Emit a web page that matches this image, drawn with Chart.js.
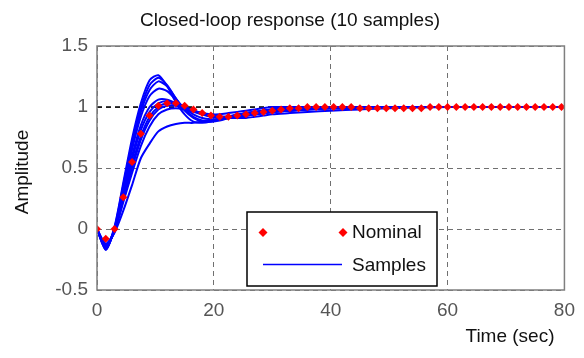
<!DOCTYPE html>
<html>
<head>
<meta charset="utf-8">
<title>Closed-loop response</title>
<script src="https://cdn.jsdelivr.net/npm/chart.js"></script>
<style>
  body { margin: 0; background: #fff; }
</style>
</head>
<body>
<canvas id="stepChart" width="584" height="358"></canvas>
<script>
// nominal step response, one marker per sample (Ts = 1.5 s)
var nominalTime = [0, 1.5, 3, 4.5, 6, 7.5, 9, 10.5, 12, 13.5, 15, 16.5, 18, 19.5, 21, 22.5, 24, 25.5,
  27, 28.5, 30, 31.5, 33, 34.5, 36, 37.5, 39, 40.5, 42, 43.5, 45, 46.5, 48, 49.5, 51, 52.5, 54, 55.5,
  57, 58.5, 60, 61.5, 63, 64.5, 66, 67.5, 69, 70.5, 72, 73.5, 75, 76.5, 78, 79.5];
var nominalValues = [0, -0.08, 0, 0.26, 0.55, 0.78, 0.93, 1.01, 1.03, 1.03, 1.01, 0.98, 0.95, 0.93,
  0.92, 0.92, 0.93, 0.94, 0.95, 0.96, 0.97, 0.98, 0.99, 0.99, 1.0, 1.0, 1.0, 1.0, 1.0, 1.0, 0.99,
  0.99, 0.99, 0.99, 0.99, 0.99, 0.99, 0.99, 1.0, 1.0, 1.0, 1.0, 1.0, 1.0, 1.0, 1.0, 1.0, 1.0, 1.0,
  1.0, 1.0, 1.0, 1.0, 1.0];

// the 10 random samples of the uncertain loop
var sampleTime = [0, 1.5, 3, 4.5, 6, 7.5, 9, 10.5, 12, 13.5, 15, 16.5, 18, 19.5, 21, 22.5, 24, 25.5,
  27, 28.5, 30, 33, 36, 40, 45, 50, 60, 80];
var sample1  = [0, -0.17, 0.02, 0.38, 0.74, 1.03, 1.22, 1.26, 1.17, 1.04, 0.94, 0.88, 0.87, 0.88, 0.90, 0.92, 0.94, 0.95, 0.96, 0.97, 0.98, 0.99, 0.99, 1, 1, 1, 1, 1];
var sample2  = [0, -0.17, 0.01, 0.36, 0.71, 0.99, 1.18, 1.24, 1.18, 1.07, 0.97, 0.91, 0.88, 0.88, 0.89, 0.91, 0.93, 0.95, 0.96, 0.97, 0.98, 0.99, 0.99, 1, 1, 1, 1, 1];
var sample3  = [0, -0.16, 0.00, 0.34, 0.68, 0.96, 1.14, 1.21, 1.17, 1.07, 0.98, 0.92, 0.89, 0.89, 0.90, 0.92, 0.93, 0.95, 0.96, 0.97, 0.98, 0.99, 0.99, 1, 1, 1, 1, 1];
var sample4  = [0, -0.16, 0.00, 0.32, 0.65, 0.92, 1.09, 1.15, 1.13, 1.06, 0.99, 0.94, 0.91, 0.90, 0.90, 0.91, 0.93, 0.94, 0.95, 0.96, 0.97, 0.98, 0.99, 1, 1, 1, 1, 1];
var sample5  = [0, -0.15, 0.00, 0.30, 0.60, 0.85, 1.00, 1.06, 1.06, 1.03, 1.00, 0.97, 0.95, 0.94, 0.94, 0.95, 0.96, 0.97, 0.98, 0.99, 1.00, 1.00, 1.00, 1, 1, 1, 1, 1];
var sample6  = [0, -0.15, -0.01, 0.28, 0.57, 0.81, 0.96, 1.03, 1.05, 1.03, 1.00, 0.97, 0.94, 0.92, 0.91, 0.91, 0.92, 0.93, 0.94, 0.95, 0.96, 0.97, 0.98, 0.99, 1, 1, 1, 1];
var sample7  = [0, -0.14, -0.01, 0.26, 0.53, 0.76, 0.92, 1.00, 1.03, 1.02, 1.00, 0.97, 0.95, 0.93, 0.92, 0.92, 0.92, 0.93, 0.94, 0.95, 0.96, 0.97, 0.98, 0.99, 0.99, 1, 1, 1];
var sample8  = [0, -0.14, -0.02, 0.24, 0.50, 0.73, 0.89, 0.98, 1.01, 1.01, 0.99, 0.97, 0.95, 0.93, 0.92, 0.92, 0.92, 0.93, 0.94, 0.95, 0.96, 0.97, 0.98, 0.99, 0.99, 1, 1, 1];
var sample9  = [0, -0.13, -0.02, 0.22, 0.46, 0.68, 0.84, 0.94, 0.98, 0.99, 0.98, 0.96, 0.94, 0.93, 0.92, 0.91, 0.91, 0.91, 0.92, 0.93, 0.94, 0.95, 0.96, 0.97, 0.98, 0.99, 1, 1];
var sample10 = [0, -0.12, -0.03, 0.15, 0.36, 0.58, 0.70, 0.80, 0.84, 0.86, 0.87, 0.87, 0.88, 0.89, 0.90, 0.91, 0.92, 0.93, 0.94, 0.95, 0.96, 0.97, 0.98, 0.99, 0.99, 1, 1, 1];
var samples = [sample1, sample2, sample3, sample4, sample5, sample6, sample7, sample8, sample9, sample10];

// steady-state reference line
var finalTime = [0, 80];
var finalValue = [1, 1];

var xTicks = [0, 20, 40, 60, 80];
var yTicks = [-0.5, 0, 0.5, 1, 1.5];

var FONT = '"Liberation Sans", Arial, Helvetica, sans-serif';

function pts(xs, ys) {
  return xs.map(function (x, i) { return { x: x, y: ys[i] }; });
}

var datasets = [];
datasets.push({
  label: 'Final value',
  data: pts(finalTime, finalValue),
  borderColor: '#000000',
  borderWidth: 1.3,
  borderDash: [5, 4],
  pointRadius: 0,
  order: 3
});
samples.forEach(function (s) {
  datasets.push({
    label: 'Samples',
    data: pts(sampleTime, s),
    borderColor: '#0000ff',
    borderWidth: 2,
    pointRadius: 0,
    tension: 0.25,
    order: 2
  });
});
datasets.push({
  label: 'Nominal',
  data: pts(nominalTime, nominalValues),
  showLine: false,
  pointStyle: 'rectRot',
  pointRadius: 4,
  pointBorderWidth: 0,
  pointBackgroundColor: '#ff0000',
  pointBorderColor: '#ff0000',
  order: 1
});

// title, axis labels, plot box and the legend box
var decorations = {
  id: 'decorations',
  afterDraw: function (chart) {
    var ctx = chart.ctx;
    var a = chart.chartArea;
    ctx.save();
    ctx.strokeStyle = '#7f7f7f';
    ctx.lineWidth = 1.5;
    ctx.strokeRect(a.left, a.top, a.right - a.left, a.bottom - a.top);

    ctx.fillStyle = '#111';
    ctx.font = '19px ' + FONT;
    ctx.textAlign = 'center';
    ctx.textBaseline = 'middle';
    ctx.fillText('Closed-loop response (10 samples)', 290, 21);
    ctx.fillText('Time (sec)', 510, 337);
    ctx.save();
    ctx.translate(23, 172);
    ctx.rotate(-Math.PI / 2);
    ctx.fillText('Amplitude', 0, 0);
    ctx.restore();

    // legend
    ctx.fillStyle = '#fff';
    ctx.fillRect(247, 212, 190, 74);
    ctx.strokeStyle = '#000';
    ctx.lineWidth = 1.5;
    ctx.strokeRect(247, 212, 190, 74);
    ctx.fillStyle = '#ff0000';
    [263, 343].forEach(function (cx) {
      ctx.beginPath();
      ctx.moveTo(cx, 228); ctx.lineTo(cx + 4.5, 232.5);
      ctx.lineTo(cx, 237); ctx.lineTo(cx - 4.5, 232.5);
      ctx.closePath();
      ctx.fill();
    });
    ctx.strokeStyle = '#0000ff';
    ctx.lineWidth = 1.6;
    ctx.beginPath();
    ctx.moveTo(263, 264.5); ctx.lineTo(342, 264.5);
    ctx.stroke();
    ctx.fillStyle = '#111';
    ctx.textAlign = 'left';
    ctx.fillText('Nominal', 352, 233);
    ctx.fillText('Samples', 352, 266);
    ctx.restore();
  }
};

var ctx = document.getElementById('stepChart').getContext('2d');
var stepChart = new Chart(ctx, {
  type: 'line',
  data: { datasets: datasets },
  options: {
    responsive: false,
    animation: false,
    layout: { padding: { top: 46, right: 10, left: 0, bottom: 0 } },
    plugins: {
      legend: { display: false },
      tooltip: { enabled: false }
    },
    scales: {
      x: {
        type: 'linear',
        min: 0,
        max: 80,
        afterFit: function (scale) { scale.height = 68; },
        afterBuildTicks: function (scale) { scale.ticks = xTicks.map(function (v) { return { value: v }; }); },
        grid: { color: '#707070', lineWidth: 1, drawTicks: false },
        border: { display: false, dash: [5, 4] },
        ticks: {
          color: '#555', padding: 9, font: { family: FONT, size: 19 },
          callback: function (v) { return String(v); }
        }
      },
      y: {
        min: -0.5,
        max: 1.5,
        afterFit: function (scale) { scale.width = 97; },
        afterBuildTicks: function (scale) { scale.ticks = yTicks.map(function (v) { return { value: v }; }); },
        grid: { color: '#707070', lineWidth: 1, drawTicks: false },
        border: { display: false, dash: [5, 4] },
        ticks: {
          color: '#555', padding: 9, font: { family: FONT, size: 19 },
          callback: function (v) { return String(v); }
        }
      }
    }
  },
  plugins: [decorations]
});
</script>
</body>
</html>
